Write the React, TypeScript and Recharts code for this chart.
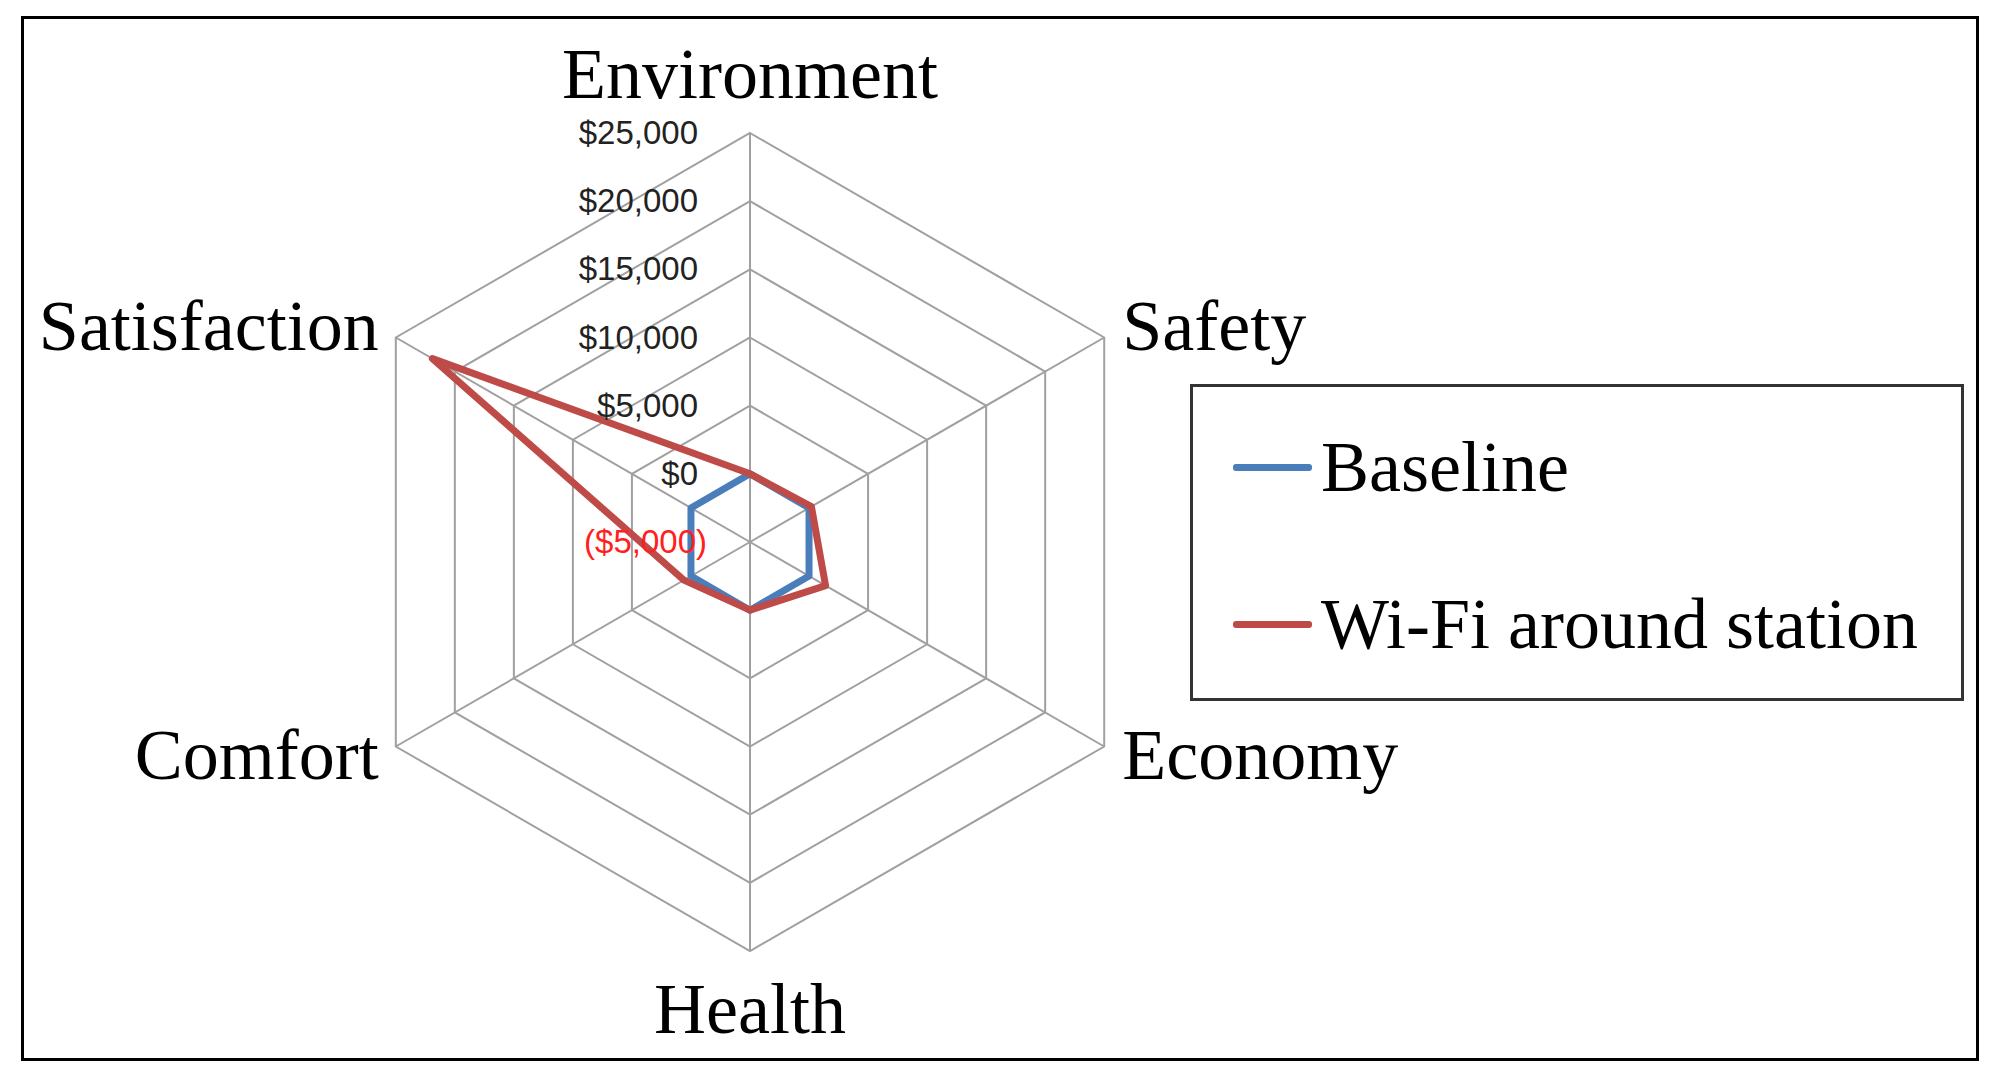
import { Legend, PolarAngleAxis, PolarGrid, PolarRadiusAxis, Radar, RadarChart } from 'recharts';

const categories = ['Environment', 'Safety', 'Economy', 'Health', 'Comfort', 'Satisfaction'];
const baselineValues = [0, 0, 0, 0, 0, 0];
const wifiValues = [0, 200, 1400, 0, 600, 21900];
const radiusDomain = [-5000, 25000];
const seriesNames = { baseline: 'Baseline', wifi: 'Wi-Fi around station' };

const BLUE = '#4a7ebb';
const RED = '#be4b48';
const GRID = '#a0a0a0';
const SERIF = '"Liberation Serif", "Times New Roman", serif';
const SANS = '"Liberation Sans", Arial, sans-serif';

const W = 1998;
const H = 1078;
const CX = 750;
const CY = 542;
const R = 409;

const data = categories.map((c, i) => ({
  subject: c,
  baseline: baselineValues[i],
  wifi: wifiValues[i],
}));

function money(v: number) {
  const s = Math.abs(v).toLocaleString('en-US');
  return v < 0 ? `($${s})` : `$${s}`;
}

function AngleTick(props: any) {
  const { payload, textAnchor } = props;
  const rad = (payload.coordinate * Math.PI) / 180;
  const vx = CX + R * Math.cos(rad);
  const vy = CY - R * Math.sin(rad);
  const s = Math.sin(rad);
  let dy = 0;
  if (s > 0.9) dy = -35;
  else if (s < -0.9) dy = 82;
  else if (s > 0) dy = 12;
  else dy = 32;
  const dx = textAnchor === 'start' ? 18 : textAnchor === 'end' ? -17 : 0;
  return (
    <text x={vx + dx} y={vy + dy} textAnchor={textAnchor} fontFamily={SERIF} fontSize={72} fill="#000">
      {payload.value}
    </text>
  );
}

function RadiusTick(props: any) {
  const { x, y, payload } = props;
  const v = payload.value as number;
  const neg = v < 0;
  return (
    <text
      x={x - (neg ? 43 : 52)}
      y={y}
      dy={11}
      textAnchor="end"
      fontFamily={SANS}
      fontSize={33}
      fill={neg ? '#ff2020' : '#222'}
    >
      {money(v)}
    </text>
  );
}

function LegendBox(props: any) {
  const items = props.payload || [];
  return (
    <div
      style={{
        width: 774,
        height: 317,
        boxSizing: 'border-box',
        border: '3px solid #333',
        background: '#fff',
        position: 'relative',
      }}
    >
      {items.map((it: any, i: number) => (
        <div
          key={it.value}
          style={{
            position: 'absolute',
            left: 40,
            top: 40 + i * 157,
            display: 'flex',
            alignItems: 'center',
            fontFamily: SERIF,
            fontSize: 72,
            lineHeight: '80px',
            color: '#000',
            whiteSpace: 'nowrap',
          }}
        >
          <span style={{ display: 'inline-block', width: 79, height: 7, background: it.color, marginRight: 9, borderRadius: 3 }} />
          {it.value}
        </div>
      ))}
    </div>
  );
}

export default function App() {
  return (
    <div style={{ position: 'absolute', left: 0, top: 0, width: W, height: H, background: '#fff' }}>
      <div
        style={{
          position: 'absolute',
          left: 21,
          top: 16,
          width: 1958,
          height: 1045,
          boxSizing: 'border-box',
          border: '3px solid #000',
        }}
      />
      <div style={{ position: 'absolute', left: 0, top: 0 }}>
        <RadarChart width={W} height={H} data={data} cx={CX} cy={CY} outerRadius={R} margin={{ top: 0, right: 0, bottom: 0, left: 0 }}>
          <PolarGrid stroke={GRID} strokeWidth={2} />
          <PolarAngleAxis dataKey="subject" tick={AngleTick} tickLine={false} axisLine={false} />
          <PolarRadiusAxis
            angle={90}
            domain={radiusDomain}
            tickCount={7}
            axisLine={false}
            tick={RadiusTick}
            tickLine={false}
          />
          <Radar
            name={seriesNames.baseline}
            dataKey="baseline"
            stroke={BLUE}
            strokeWidth={7}
            strokeLinejoin="round"
            fill="none"
            fillOpacity={0}
            dot={false}
            legendType="line"
            isAnimationActive={false}
          />
          <Radar
            name={seriesNames.wifi}
            dataKey="wifi"
            stroke={RED}
            strokeWidth={7}
            strokeLinejoin="round"
            fill="none"
            fillOpacity={0}
            dot={false}
            legendType="line"
            isAnimationActive={false}
          />
          <Legend
            content={LegendBox}
            wrapperStyle={{ position: 'absolute', left: 1190, top: 384, width: 774, height: 317 }}
          />
        </RadarChart>
      </div>
    </div>
  );
}
